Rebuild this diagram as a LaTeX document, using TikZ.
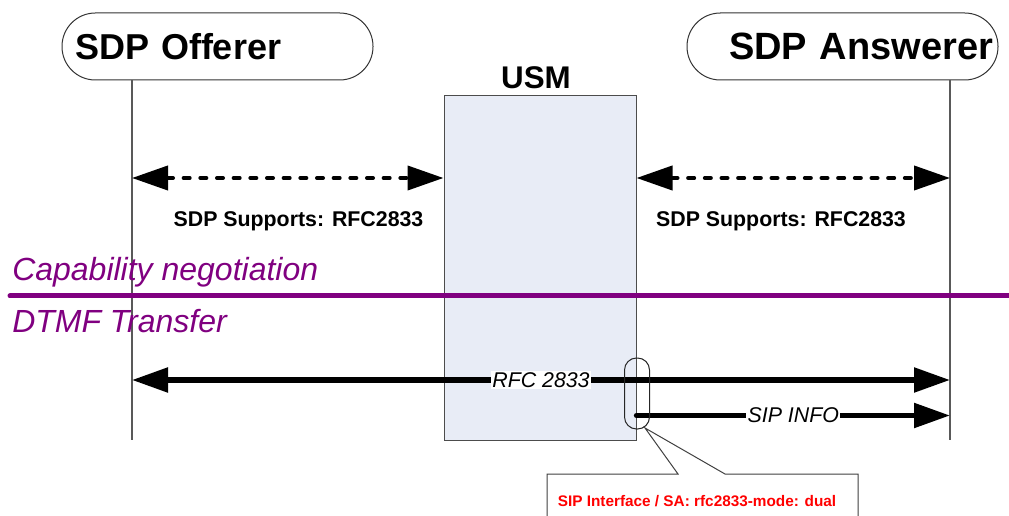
\documentclass[tikz,border=0pt]{standalone}
\usepackage{fontspec}
\setmainfont{Liberation Sans}
\usetikzlibrary{arrows.meta, positioning, calc}

\definecolor{usmfondo}{HTML}{E8ECF6}
\definecolor{fasecol}{HTML}{800080}

\begin{document}
\begin{tikzpicture}[x=0.75pt, y=-0.75pt, >={Triangle[length=27pt,width=18pt]},
        entidad/.style={rectangle, rounded corners=25pt, draw=black!80, line width=0.75pt, minimum width=233.25pt, minimum height=50.25pt, font=\fontsize{27}{30}\selectfont\bfseries},
        vida/.style={draw=black!65, line width=1pt},
        negoc/.style={<->, line width=3pt, dash pattern=on 4.5pt off 8pt, line cap=round},
        flujo/.style={line width=4pt},
        soporte/.style={font=\fontsize{16}{19}\selectfont\bfseries, inner sep=0pt},
        fase/.style={font=\fontsize{24}{28}\selectfont\itshape, text=fasecol, inner sep=0pt, anchor=base west},
        msg/.style={font=\fontsize{16}{19}\selectfont\itshape, fill=white, inner sep=1pt}]
    \useasboundingbox (0,0) rectangle (1009,516);
    % entidades
    \node[entidad, text width=213.75pt, align=left, inner xsep=9.75pt] (offerer) at (217.5,46.5) {SDP Offerer};
    \node[entidad, text width=225.75pt, align=right, inner xsep=3.75pt, font=\fontsize{28.5}{31}\selectfont\bfseries] (answerer) at (842.5,46.5) {SDP Answerer};
    \node[rectangle, draw=black!70, line width=0.75pt, fill=usmfondo, minimum width=144pt, minimum height=258pt] (usm) at (540,268) {};
    \node[above=4.5pt of usm, xshift=-3pt, inner sep=0pt, font=\fontsize{23.5}{27}\selectfont\bfseries] (usmlbl) {USM};
    \coordinate (offBot) at (132,440);
    \coordinate (ansBot) at (950,440);
    \draw[vida] (offerer.south -| offBot) -- (offBot);
    \draw[vida] (answerer.south -| ansBot) -- (ansBot);
    % capability negotiation
    \coordinate (filaNeg) at (0,178);
    \draw[negoc] (offBot |- filaNeg) -- (usm.west |- filaNeg);
    \draw[negoc] (usm.east |- filaNeg) -- (ansBot |- filaNeg);
    \node[soporte] (supOff) at (298.5,221) {SDP Supports: RFC2833};
    \node[soporte] (supAns) at (781,221) {SDP Supports: RFC2833};
    \node[fase] (capneg) at (12,281) {Capability negotiation};
    \coordinate (faseL) at (10,296);
    \coordinate (faseR) at (1012,296);
    \draw[draw=fasecol, line width=3.75pt, line cap=round] (faseL) -- (faseR);
    \node[fase] (dtmf) at (12,333) {DTMF Transfer};
    % DTMF transfer
    \coordinate (filaRfc) at (0,380);
    \coordinate (filaSip) at (0,415.5);
    \draw[flujo, <->] (offBot |- filaRfc) -- node[msg] (rfc) {RFC 2833} (ansBot |- filaRfc);
    \draw[flujo, ->, line cap=round] (usm.east |- filaSip) -- node[msg] (sipinfo) {SIP INFO} (ansBot |- filaSip);
    \node[draw=black!85, line width=0.75pt, rounded corners=9pt, minimum width=18.75pt, minimum height=53.25pt, inner sep=0pt] (sipif) at (637,393.5) {};
    % nota
    \coordinate (nota) at (645,428);
    \draw[draw=black!75, line width=0.75pt, fill=white] (547,517) |- (678,474) -- (nota) -- (725,474) -| (858,517);
    \node[font=\fontsize{11.5}{14}\selectfont\bfseries, text=red] (modo) at (697,501) {SIP Interface / SA: rfc2833-mode: dual};
\end{tikzpicture}
\end{document}
